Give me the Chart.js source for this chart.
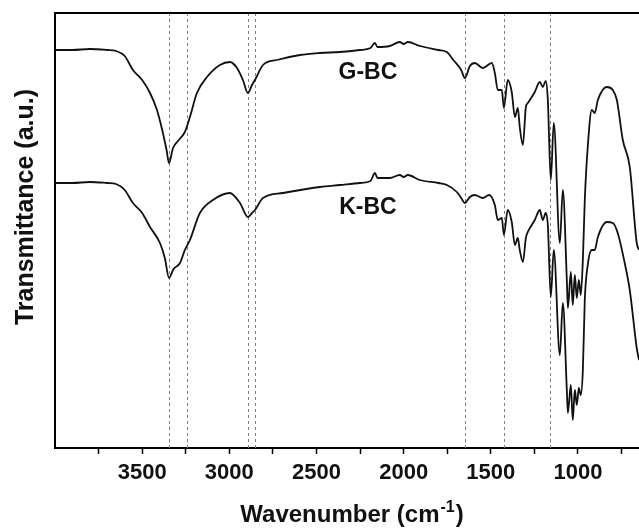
<!DOCTYPE html>
<html>
<head>
<meta charset="utf-8">
<script src="https://cdn.jsdelivr.net/npm/chart.js@4.4.1/dist/chart.umd.min.js"></script>
<style>
  body { margin: 0; background: #fff; }
</style>
</head>
<body>
<canvas id="ftir" width="639" height="528"></canvas>
<script>
// FTIR spectra of the two bacterial cellulose samples (G-BC on top, K-BC below)
// values, transmittance in arbitrary units

const gbcWavenumber = [4000, 3900, 3800, 3700, 3650, 3600, 3553, 3500, 3455, 3415, 3381, 3360, 3346, 3323, 3290, 3255, 3226, 3186, 3128, 3054, 2997, 2956, 2922, 2893, 2870, 2853, 2807, 2727, 2595, 2480, 2366, 2251, 2190, 2165, 2150, 2080, 2022, 2000, 1976, 1907, 1800, 1752, 1715, 1670, 1649, 1620, 1592, 1546, 1494, 1477, 1460, 1437, 1425, 1403, 1380, 1362, 1345, 1334, 1316, 1299, 1288, 1265, 1248, 1219, 1202, 1185, 1173, 1156, 1139, 1104, 1087, 1064, 1058, 1041, 1030, 1018, 1007, 995, 984, 972, 961, 944, 921, 904, 886, 835, 800, 777, 743, 703, 663, 650];
const gbcTransmittance = [79.6, 79.6, 79.8, 79.6, 79.4, 78.4, 75.6, 73.6, 71.0, 67.6, 63.0, 59.6, 57.0, 60.0, 61.6, 63.2, 66.2, 71.0, 74.2, 76.6, 77.2, 76.0, 73.6, 71.0, 72.6, 73.6, 76.6, 77.6, 78.6, 79.0, 79.2, 79.6, 80.0, 81.0, 80.2, 80.4, 81.2, 80.8, 81.2, 80.4, 79.6, 79.2, 77.6, 75.6, 74.0, 76.4, 77.0, 76.0, 77.0, 75.0, 71.6, 71.6, 68.0, 73.6, 71.2, 66.2, 68.0, 64.2, 60.6, 68.2, 69.0, 70.2, 71.2, 73.2, 72.2, 73.4, 69.6, 53.6, 65.0, 41.0, 51.6, 33.6, 28.0, 35.2, 28.6, 34.6, 30.0, 33.6, 30.6, 37.6, 49.6, 60.2, 67.6, 67.0, 69.6, 72.2, 71.6, 69.6, 61.6, 56.2, 41.0, 39.6];

const kbcWavenumber = [4000, 3900, 3800, 3700, 3650, 3600, 3553, 3500, 3455, 3398, 3370, 3346, 3320, 3283, 3255, 3226, 3169, 3094, 2997, 2939, 2893, 2870, 2853, 2807, 2693, 2480, 2366, 2251, 2190, 2165, 2150, 2080, 2022, 2000, 1976, 1907, 1800, 1752, 1695, 1670, 1649, 1620, 1592, 1546, 1510, 1477, 1460, 1437, 1425, 1403, 1380, 1362, 1345, 1334, 1316, 1299, 1288, 1265, 1248, 1219, 1202, 1185, 1173, 1156, 1139, 1104, 1087, 1064, 1058, 1041, 1030, 1018, 1007, 995, 984, 972, 961, 944, 921, 904, 886, 835, 800, 772, 732, 703, 663, 650];
const kbcTransmittance = [53.0, 53.0, 53.2, 53.0, 52.8, 51.6, 49.0, 47.0, 44.2, 41.0, 38.0, 34.0, 35.8, 37.0, 39.6, 41.6, 47.0, 49.6, 51.0, 49.0, 46.2, 47.0, 47.6, 50.0, 51.0, 52.2, 52.6, 53.0, 53.4, 55.0, 54.0, 54.0, 54.6, 54.2, 54.6, 53.6, 53.0, 52.6, 51.2, 50.0, 49.0, 50.2, 50.6, 50.0, 50.6, 48.6, 45.6, 46.0, 42.6, 47.6, 45.2, 40.6, 42.0, 39.6, 37.2, 42.0, 43.2, 44.6, 45.6, 47.6, 45.6, 47.0, 44.6, 30.2, 39.6, 18.6, 29.0, 11.6, 7.0, 12.6, 5.6, 11.6, 8.6, 12.0, 10.6, 15.6, 29.6, 36.6, 39.6, 39.6, 42.2, 45.2, 45.0, 43.0, 37.0, 31.6, 20.0, 17.6];

// marked bands (dotted guide lines)
const bandPositions = [3345, 3240, 2895, 2850, 1650, 1427, 1160];

// tick marks every 250, labels every 500
const xTicks = [750, 1000, 1250, 1500, 1750, 2000, 2250, 2500, 2750, 3000, 3250, 3500, 3750];

const sampleLabels = ['G-BC', 'K-BC'];

const FONT = '"Liberation Sans", Arial, sans-serif';

function toPoints(xs, ys) {
    return xs.map((x, i) => ({ x: x, y: ys[i] }));
}

const decorPlugin = {
    id: 'decor',
    beforeDatasetsDraw(chart) {
        const ctx = chart.ctx;
        const area = chart.chartArea;
        const xs = chart.scales.x;
        ctx.save();
        ctx.strokeStyle = '#808080';
        ctx.lineWidth = 1;
        ctx.setLineDash([3, 3]);
        bandPositions.forEach(b => {
            const px = Math.round(xs.getPixelForValue(b)) + 0.5;
            ctx.beginPath();
            ctx.moveTo(px, area.top);
            ctx.lineTo(px, area.bottom);
            ctx.stroke();
        });
        ctx.restore();
    },
    afterDraw(chart) {
        const ctx = chart.ctx;
        const area = chart.chartArea;
        const xs = chart.scales.x;
        const ys = chart.scales.y;
        ctx.save();

        // top frame line
        ctx.strokeStyle = '#000';
        ctx.lineWidth = 2;
        ctx.beginPath();
        ctx.moveTo(area.left - 1, area.top);
        ctx.lineTo(area.right, area.top);
        ctx.stroke();

        // sample names
        ctx.fillStyle = '#111';
        ctx.font = 'bold 23px ' + FONT;
        ctx.textAlign = 'center';
        ctx.textBaseline = 'middle';
        ctx.fillText(sampleLabels[0], xs.getPixelForValue(2205), ys.getPixelForValue(75));
        ctx.fillText(sampleLabels[1], xs.getPixelForValue(2205), ys.getPixelForValue(48));

        // x title with superscript
        const main = 'Wavenumber (cm';
        const sup = '-1';
        const close = ')';
        ctx.textAlign = 'left';
        ctx.textBaseline = 'alphabetic';
        ctx.font = 'bold 24px ' + FONT;
        const w1 = ctx.measureText(main).width;
        const w3 = ctx.measureText(close).width;
        ctx.font = 'bold 16px ' + FONT;
        const w2 = ctx.measureText(sup).width;
        let x0 = 351 - (w1 + w2 + w3) / 2;
        const base = 522;
        ctx.font = 'bold 24px ' + FONT;
        ctx.fillText(main, x0, base);
        ctx.font = 'bold 16px ' + FONT;
        ctx.fillText(sup, x0 + w1 + 1, base - 10);
        ctx.font = 'bold 24px ' + FONT;
        ctx.fillText(close, x0 + w1 + w2 + 2, base);

        // y title
        ctx.translate(26, 207);
        ctx.rotate(-Math.PI / 2);
        ctx.textAlign = 'center';
        ctx.textBaseline = 'middle';
        ctx.font = 'bold 25px ' + FONT;
        ctx.fillText('Transmittance (a.u.)', 0, 0);
        ctx.restore();
    }
};

new Chart(document.getElementById('ftir').getContext('2d'), {
    type: 'line',
    data: {
        datasets: [{
            label: sampleLabels[0],
            data: toPoints(gbcWavenumber, gbcTransmittance),
            borderColor: '#111',
            borderWidth: 1.8,
            pointRadius: 0,
            cubicInterpolationMode: 'monotone'
        }, {
            label: sampleLabels[1],
            data: toPoints(kbcWavenumber, kbcTransmittance),
            borderColor: '#111',
            borderWidth: 1.8,
            pointRadius: 0,
            cubicInterpolationMode: 'monotone'
        }]
    },
    options: {
        responsive: false,
        animation: false,
        layout: { padding: { top: 13, right: 0, left: 0, bottom: 0 } },
        plugins: {
            legend: { display: false },
            tooltip: { enabled: false }
        },
        scales: {
            x: {
                type: 'linear',
                reverse: true,
                min: 650,
                max: 4000,
                afterBuildTicks: s => { s.ticks = xTicks.map(v => ({ value: v })); },
                afterFit: s => { s.height = 80; },
                ticks: {
                    autoSkip: false,
                    maxRotation: 0,
                    padding: 6,
                    color: '#111',
                    font: { family: FONT, size: 22, weight: 'bold' },
                    callback: v => (v % 500 === 0 ? String(v) : '')
                },
                grid: {
                    drawOnChartArea: false,
                    drawTicks: true,
                    tickLength: 6,
                    tickColor: '#000',
                    tickWidth: 1.5
                },
                border: { display: true, color: '#000', width: 2 }
            },
            y: {
                min: 0,
                max: 87,
                afterFit: s => { s.width = 55; },
                ticks: { display: false },
                grid: { display: false },
                border: { display: true, color: '#000', width: 2 }
            }
        }
    },
    plugins: [decorPlugin]
});
</script>
</body>
</html>
